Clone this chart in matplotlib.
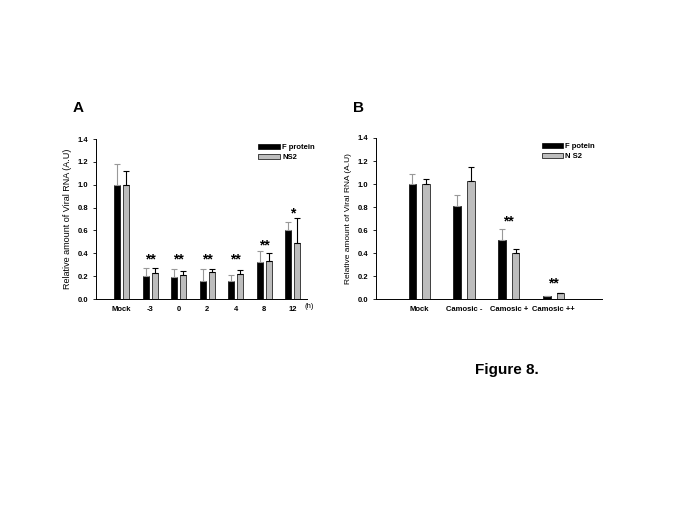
import numpy as np
import matplotlib
matplotlib.use('Agg')
import matplotlib.pyplot as plt

plt.rcParams['font.family'] = ['Liberation Sans', 'DejaVu Sans']

# Panel A: time of addition
a_labels = ['Mock', '-3', '0', '2', '4', '8', '12']
a_fprot = [1.00, 0.20, 0.195, 0.157, 0.16, 0.325, 0.607]
a_fprot_err = [0.18, 0.07, 0.07, 0.108, 0.05, 0.095, 0.068]
a_ns2 = [1.00, 0.228, 0.21, 0.237, 0.22, 0.336, 0.49]
a_ns2_err = [0.12, 0.042, 0.035, 0.026, 0.03, 0.064, 0.22]
a_stars = ['', '**', '**', '**', '**', '**', '*']
a_star_y = [0, 0.35, 0.35, 0.35, 0.35, 0.47, 0.75]

# Panel B: camosic acid dose
b_labels = ['Mock', 'Camosic -', 'Camosic +', 'Camosic ++']
b_fprot = [1.00, 0.805, 0.512, 0.023]
b_fprot_err = [0.087, 0.102, 0.098, 0.0]
b_ns2 = [1.00, 1.03, 0.40, 0.05]
b_ns2_err = [0.044, 0.118, 0.033, 0.0]
b_stars = ['', '', '**', '**']
b_star_y = [0, 0, 0.675, 0.137]

fig = plt.figure(figsize=(6.85, 5.13), dpi=100)


def panel(ax, labels, f, fe, n, ne, stars, sy, w, off, leg_names, xlim, leg_x, ylab_fs):
    x = np.arange(len(labels))
    ax.bar(x - off, f, w, color='black', edgecolor='black', lw=0.5)
    ax.bar(x + off, n, w, color='#bdbdbd', edgecolor='black', lw=0.5)
    # upper error bars only
    ax.errorbar(x - off, f, yerr=[np.zeros(len(x)), fe], fmt='none',
                ecolor='#999999', elinewidth=0.8, capsize=2.5, capthick=0.8)
    ax.errorbar(x + off, n, yerr=[np.zeros(len(x)), ne], fmt='none',
                ecolor='black', elinewidth=0.8, capsize=2.5, capthick=0.8)
    for xi, s, yy in zip(x, stars, sy):
        if s:
            ax.text(xi, yy, s, ha='center', va='center', fontsize=10, fontweight='bold')
    ax.set_ylim(0, 1.4)
    ax.set_xlim(*xlim)
    ax.set_yticks(np.arange(0, 1.41, 0.2))
    ax.set_yticklabels(['%.1f' % v for v in np.arange(0, 1.41, 0.2)],
                       fontsize=5.5, fontweight='bold')
    ax.set_xticks(x)
    ax.set_xticklabels(labels, fontsize=5.5, fontweight='bold')
    ax.tick_params(axis='x', length=0, pad=5)
    ax.tick_params(axis='y', length=2.5, width=0.6, pad=3)
    for s in ['top', 'right']:
        ax.spines[s].set_visible(False)
    for s in ['left', 'bottom']:
        ax.spines[s].set_linewidth(0.7)
    ax.set_ylabel('Relative amount of Viral RNA (A.U)', fontsize=ylab_fs, labelpad=4)
    h1 = plt.Rectangle((0, 0), 1, 1, fc='black', ec='black', lw=0.5)
    h2 = plt.Rectangle((0, 0), 1, 1, fc='#bdbdbd', ec='black', lw=0.5)
    ax.legend([h1, h2], leg_names, loc='upper right', bbox_to_anchor=(leg_x, 1.01),
              frameon=False, handlelength=2.8, handleheight=0.6,
              labelspacing=0.3, handletextpad=0.3, prop={'weight': 'bold', 'size': 5.5})


axA = fig.add_axes([0.140, 0.417, 0.308, 0.312])
panel(axA, a_labels, a_fprot, a_fprot_err, a_ns2, a_ns2_err, a_stars, a_star_y,
      0.21, 0.16, ['F protein', 'NS2'], (-0.9, 6.5), 1.07, 6.5)
axA.text(6.42, -0.065, '(h)', fontsize=5.5, ha='left', va='center')

axB = fig.add_axes([0.549, 0.417, 0.330, 0.314])
panel(axB, b_labels, b_fprot, b_fprot_err, b_ns2, b_ns2_err, b_stars, b_star_y,
      0.17, 0.15, ['F potein', 'N S2'], (-0.96, 4.08), 1.0, 6.0)

fig.text(73 / 685, 1 - 108 / 513, 'A', fontsize=11, fontweight='bold', va='center')
fig.text(353 / 685, 1 - 108 / 513, 'B', fontsize=11, fontweight='bold', va='center')
fig.text(475 / 685, 1 - 370 / 513, 'Figure 8.', fontsize=11, fontweight='bold', va='center')

fig.savefig('out.png', dpi=100)
